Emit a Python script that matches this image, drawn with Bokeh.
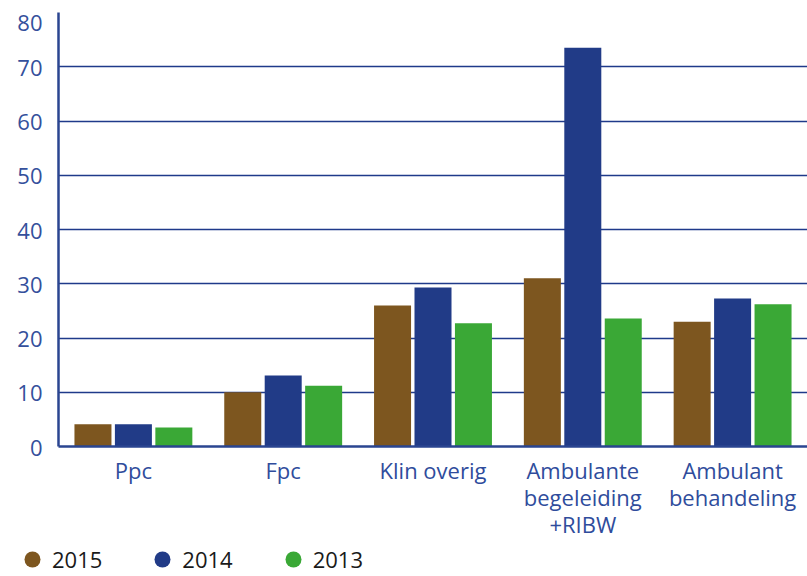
from bokeh.plotting import figure
from bokeh.layouts import column
from bokeh.models import FactorRange, Range1d, Legend, LegendItem, SingleIntervalTicker
from bokeh.transform import dodge
from bokeh.embed import file_html
from bokeh.resources import INLINE

categories = ["Ppc", "Fpc", "Klin overig", "Ambulante\nbegeleiding\n+RIBW", "Ambulant\nbehandeling"]
years = ["2015", "2014", "2013"]
v2015 = [4.1, 10.0, 26.0, 31.0, 23.0]
v2014 = [4.1, 13.1, 29.3, 73.5, 27.3]
v2013 = [3.5, 11.2, 22.7, 23.6, 26.2]
colors = ["#7d561f", "#213b87", "#3aa836"]

FONT = "Open Sans"
AXIS_BLUE = "#2a4590"
TEXT_BLUE = "#2f4c9c"

data = {"cat": categories, "2015": v2015, "2014": v2014, "2013": v2013}
offsets = [-0.27, 0.0, 0.27]

p = figure(x_range=FactorRange(*categories), y_range=Range1d(0, 80),
           width=807, height=541, output_backend="svg", toolbar_location=None,
           min_border_left=58, min_border_right=0, min_border_top=12, min_border_bottom=95)
p.frame_align = False
p.outline_line_color = None
p.background_fill_color = "white"

for yr, off, col in zip(years, offsets, colors):
    p.vbar(x=dodge("cat", off, range=p.x_range), top=yr, width=0.247, source=data,
           fill_color=col, line_color=None)

# grid
p.xgrid.grid_line_color = None
p.ygrid.grid_line_color = "#1f3a8a"
p.ygrid.grid_line_width = 1.3
p.yaxis.ticker = SingleIntervalTicker(interval=10)

# axes
for ax in (p.xaxis[0], p.yaxis[0]):
    ax.axis_line_color = AXIS_BLUE
    ax.axis_line_width = 2.5
    ax.major_tick_line_color = None
    ax.minor_tick_line_color = None
    ax.major_tick_out = 0
    ax.major_tick_in = 0
    ax.major_label_text_font = FONT
    ax.major_label_text_font_size = "22px"

p.yaxis.major_label_text_color = "#34509c"
p.yaxis.major_label_standoff = 12
p.yaxis.major_label_overrides = {80: "\n80"}
p.yaxis.major_label_text_line_height = 0.2
p.xaxis.major_label_text_color = TEXT_BLUE
p.xaxis.major_label_standoff = 8
p.xaxis.major_label_text_line_height = 0.9

# legend strip below the chart (hidden markers of the same series give round swatches)
lg = figure(x_range=FactorRange(*categories), y_range=Range1d(0, 80),
            width=807, height=35, output_backend="svg", toolbar_location=None,
            x_axis_type=None, y_axis_type=None,
            min_border_left=0, min_border_right=0, min_border_top=0, min_border_bottom=0)
lg.frame_align = False
lg.outline_line_color = None
lg.xgrid.grid_line_color = None
lg.ygrid.grid_line_color = None

items = []
for yr, off, col in zip(years, offsets, colors):
    m = lg.scatter(x=dodge("cat", off, range=lg.x_range), y=yr, source=data, marker="circle",
                   size=16, fill_color=col, line_color=None, visible=False)
    items.append(LegendItem(label=yr, renderers=[m]))

legend = Legend(items=items, orientation="horizontal", location=(12, -3),
                glyph_width=40, glyph_height=40, label_standoff=0, spacing=40,
                padding=0, margin=0, border_line_color=None, background_fill_alpha=0,
                inactive_fill_alpha=0,
                label_text_font=FONT, label_text_font_size="22px", label_text_color="#1a1a1a")
lg.add_layout(legend, "center")

layout = column(p, lg, spacing=0)
open("out.html", "w").write(file_html(layout, INLINE))
